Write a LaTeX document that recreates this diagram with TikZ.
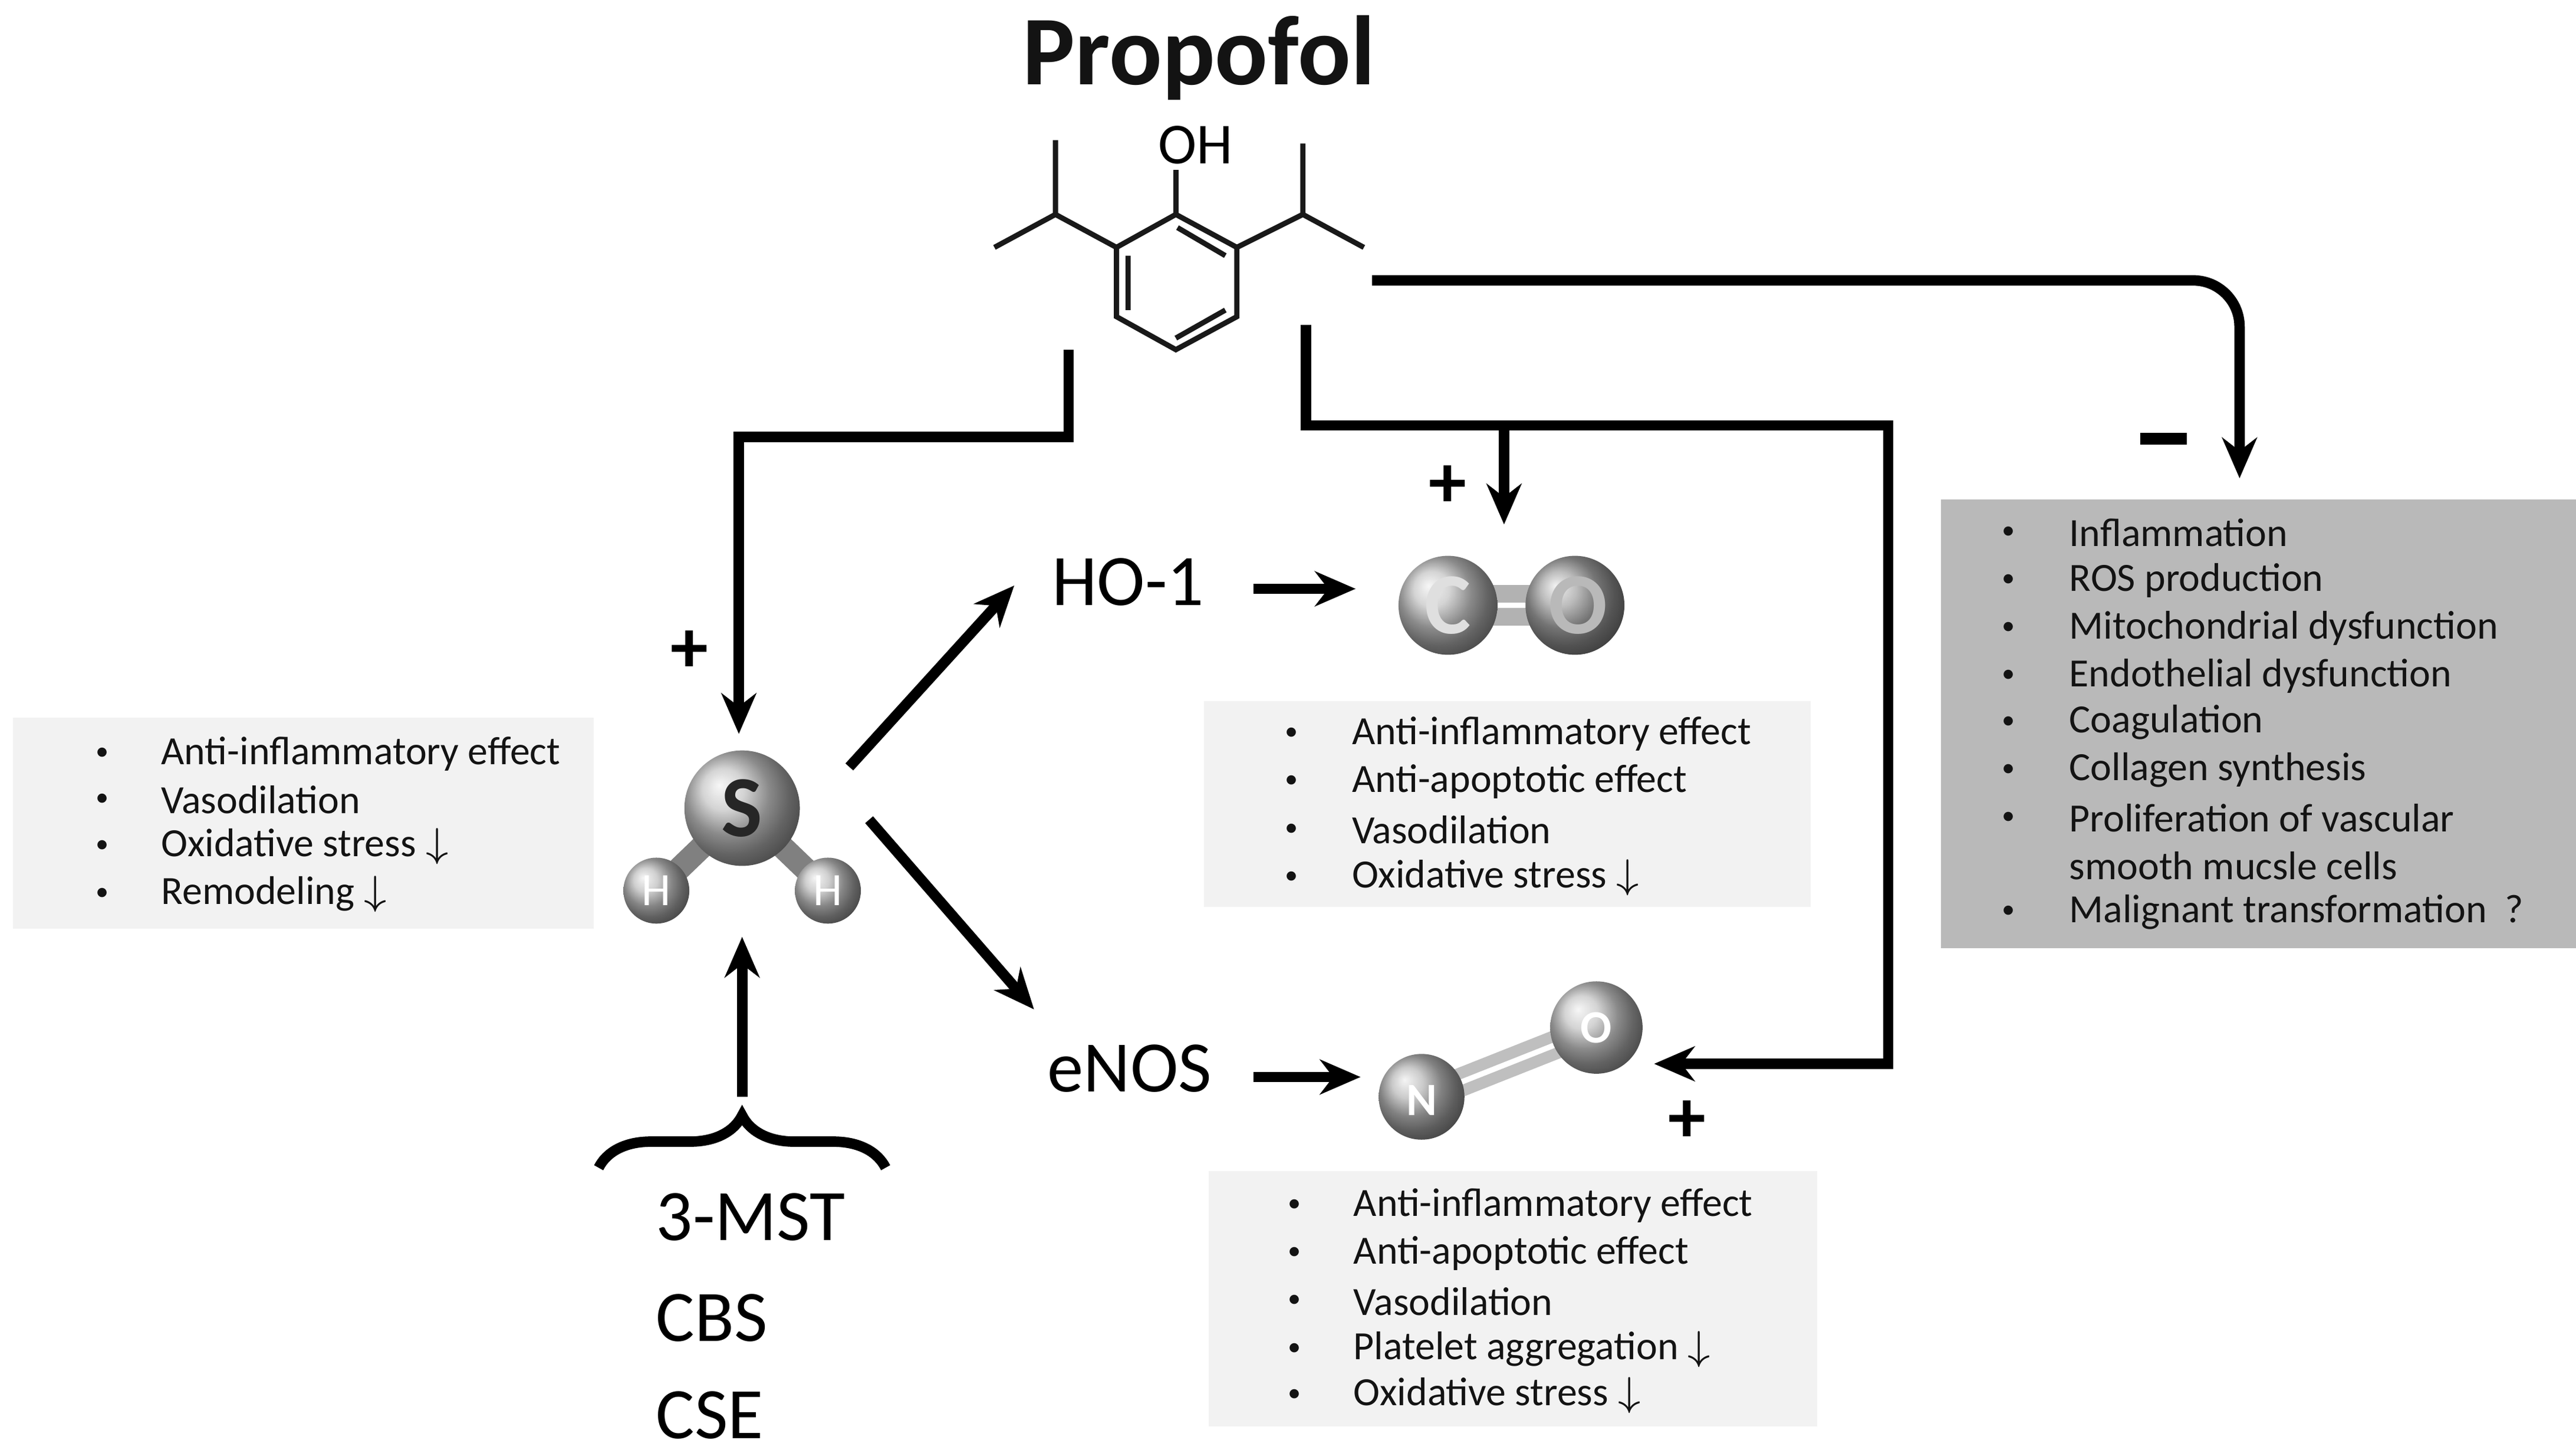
\documentclass[tikz,border=0pt]{standalone}
\usepackage{fontspec}
\setmainfont{Carlito}
\usetikzlibrary{arrows.meta,decorations.pathreplacing}
\begin{document}
\begin{tikzpicture}[x=0.01cm,y=-0.01cm,
    line width=1.6pt,
    arr/.style={-{Stealth[length=7pt,width=6pt]}, line width=1.8pt},
    bond/.style={line width=0.9pt, gray!20!black},
    box/.style={fill=gray!10, draw=none},
    dbox/.style={fill=gray!55, draw=none},
    txt/.style={font=\fontsize{6.9pt}{7pt}\selectfont, anchor=west, inner sep=0, text=gray!15!black},
    dot/.style={font=\fontsize{4.5pt}{5pt}\selectfont, inner sep=0, text=gray!15!black},
    big/.style={font=\fontsize{12.5pt}{14pt}\selectfont},
    sgn/.style={font=\bfseries\fontsize{13pt}{14pt}\selectfont}]
\useasboundingbox (0,0) rectangle (1562,879);

% title and molecule
\node[font=\bfseries\fontsize{17pt}{19pt}\selectfont, text=gray!15!black] (title) at (727,35) {Propofol};
\node[font=\fontsize{10pt}{11pt}\selectfont] (oh) at (725,88) {OH};
\draw[bond] (713,130) -- (750,150) -- (750,192) -- (713,212) -- (677,192) -- (677,150) -- cycle;
\draw[bond] (714,138) -- (743,155) (743,188) -- (713,205) (684,188) -- (684,155);
\draw[bond] (713,130) -- (713,103);
\draw[bond] (677,150) -- (640,130) -- (640,85) (640,130) -- (603,150);
\draw[bond] (750,150) -- (790,130) -- (790,87) (790,130) -- (827,150);

% text boxes
\fill[box] (8,435) rectangle (360,563);
\fill[box] (730,425) rectangle (1098,550);
\fill[box] (733,710) rectangle (1102,865);
\fill[dbox] (1177,303) rectangle (1562,575);

\foreach \y/\t in {457/Anti-inflammatory effect,485/Vasodilation,513/Oxidative stress $\downarrow$,542/Remodeling $\downarrow$}{
  \node[dot] at (62,\y) {•}; \node[txt] at (95,\y) {\t};}
\foreach \y/\t in {445/Anti-inflammatory effect,474/Anti-apoptotic effect,503/Vasodilation,532/Oxidative stress $\downarrow$}{
  \node[dot] at (783,\y) {•}; \node[txt] at (817,\y) {\t};}
\foreach \y/\t in {731/Anti-inflammatory effect,760/Anti-apoptotic effect,789/Vasodilation,818/Platelet aggregation $\downarrow$,846/Oxidative stress $\downarrow$}{
  \node[dot] at (785,\y) {•}; \node[txt] at (818,\y) {\t};}
\foreach \y/\t in {323/Inflammation,352/ROS production,381/Mitochondrial dysfunction,410/Endothelial dysfunction,438/Coagulation,467/Collagen synthesis,496/Proliferation of vascular,553/Malignant transformation\ \ ?}{
  \node[dot] at (1218,\y) {•}; \node[txt] at (1252,\y) {\t};}
\node[txt] at (1252,525) {smooth mucsle cells};

% H2S molecule
\draw[gray, line width=4pt] (398,540) -- (450,490) -- (502,540);
\shade[ball color=gray!50] (398,540) circle (20);
\shade[ball color=gray!50] (502,540) circle (20);
\shade[ball color=gray!45] (450,490) circle (35);
\node[font=\bfseries\fontsize{15pt}{16pt}\selectfont, text=gray!30!black] (s) at (450,490) {S};
\node[font=\fontsize{8pt}{9pt}\selectfont, text=white] (h1) at (398,540) {H};
\node[font=\fontsize{8pt}{9pt}\selectfont, text=white] (h2) at (502,540) {H};

% CO molecule
\draw[gray!60, line width=3pt] (880,360) -- (955,360) (880,374) -- (955,374);
\shade[ball color=gray!70] (955,367) circle (30);
\shade[ball color=gray!45] (878,367) circle (30);
\node[font=\bfseries\fontsize{15pt}{16pt}\selectfont, text=gray!25] (c) at (878,367) {C};
\node[font=\bfseries\fontsize{15pt}{16pt}\selectfont, text=gray!55] (o1) at (957,367) {O};

% NO molecule
\draw[gray!50, line width=2pt] (862,660) -- (968,618) (865,670) -- (971,628);
\shade[ball color=gray!55] (862,665) circle (26);
\shade[ball color=gray!45] (968,623) circle (28);
\node[font=\bfseries\fontsize{8pt}{9pt}\selectfont, text=white] (n) at (862,667) {N};
\node[font=\bfseries\fontsize{8pt}{9pt}\selectfont, text=white] (o2) at (968,623) {O};

% labels
\node[big] (ho) at (684,353) {HO-1};
\node[big] (enos) at (685,648) {eNOS};
\node[big, anchor=west, inner sep=0] (mst) at (395,738) {3-MST};
\node[big, anchor=west, inner sep=0] (cbs) at (395,799) {CBS};
\node[big, anchor=west, inner sep=0] (cse) at (395,858) {CSE};
\node[sgn] (p1) at (418,395) {+};
\node[sgn] (p2) at (878,295) {+};
\node[sgn] (p3) at (1023,680) {+};
\node[sgn] (m1) at (1312,266) {\rule{8pt}{2pt}};

% connectors
\coordinate (a0) at (648,212);
\coordinate (s0) at (448,445);
\draw[arr] (a0) |- (548,265) -| (s0);
\coordinate (b0) at (792,197);
\coordinate (no0) at (1003,645);
\draw[arr] (b0) |- (1145,258) |- (no0);
\coordinate (bb) at (912,258);
\coordinate (co0) at (912,318);
\draw[arr] (bb) -- (co0);
\coordinate (c0) at (832,170);
\coordinate (r0) at (1358,290);
\draw[arr, rounded corners=8pt] (c0) -- (1358,170) -- (r0);
\coordinate (s1) at (515,465); \coordinate (h1e) at (615,355);
\draw[arr] (s1) -- (h1e);
\coordinate (s2) at (527,497); \coordinate (e1) at (627,612);
\draw[arr] (s2) -- (e1);
\coordinate (hoe) at (760,357); \coordinate (coe) at (822,357);
\draw[arr] (hoe) -- (coe);
\coordinate (ene) at (760,653); \coordinate (noe) at (825,653);
\draw[arr] (ene) -- (noe);
\coordinate (br) at (450,665); \coordinate (su) at (450,568);
\draw[arr] (br) -- (su);
\draw[decorate, decoration={brace, amplitude=9pt}, line width=1.8pt] (363,708) -- (537,708);
\end{tikzpicture}
\end{document}
